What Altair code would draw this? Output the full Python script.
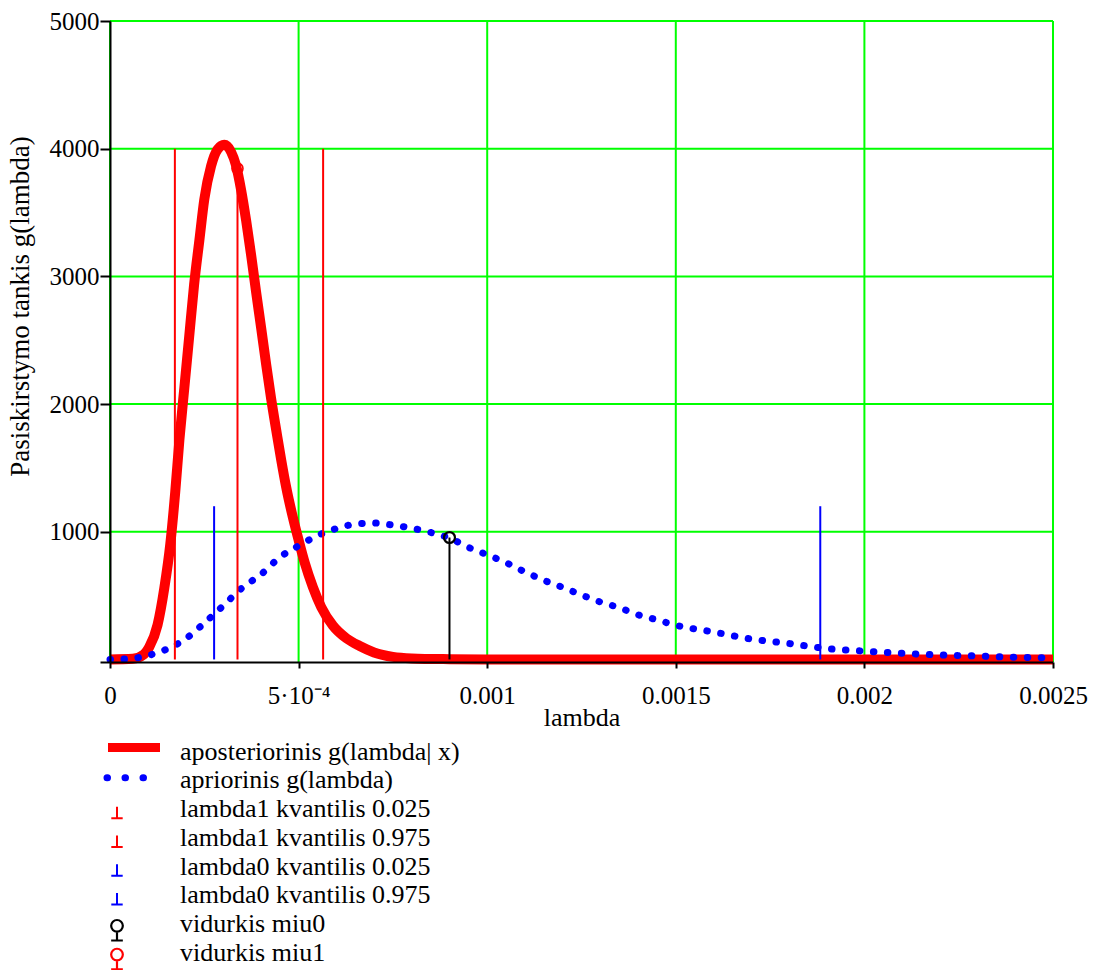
import altair as alt
import pandas as pd

# ---- data ----
post_lambda = [0, 0.00006, 0.00009, 0.000104, 0.000126, 0.000144, 0.00016, 0.000173, 0.000184,
               0.000197, 0.00021, 0.000223, 0.000237, 0.00025, 0.000268, 0.000285, 0.000303,
               0.000321, 0.000334, 0.000348, 0.000361, 0.000374, 0.000387, 0.000401, 0.000414,
               0.000427, 0.000441, 0.000454, 0.000467, 0.000485, 0.0005, 0.000516, 0.000538,
               0.00056, 0.000591, 0.000627, 0.000662, 0.0007, 0.00075, 0.0008, 0.0009, 0.001,
               0.0015, 0.002, 0.0025]
post_g = [0, 5, 40, 96, 270, 560, 907, 1313, 1719, 2125, 2530, 2936, 3284, 3603, 3864, 3994, 4030,
          3975, 3870, 3670, 3435, 3170, 2885, 2590, 2310, 2045, 1790, 1560, 1350, 1110, 935, 760,
          565, 410, 265, 165, 105, 55, 20, 8, 2, 0, 0, 0, 0]

prior_lambda = [0, 0.00005, 0.0001, 0.00015, 0.0002, 0.00025, 0.0003, 0.00035, 0.0004, 0.00045,
                0.0005, 0.00055, 0.0006, 0.00065, 0.0007, 0.00075, 0.0008, 0.00085, 0.0009, 0.00095,
                0.001, 0.00105, 0.0011, 0.00115, 0.0012, 0.00125, 0.0013, 0.00135, 0.0014, 0.00145,
                0.0015, 0.0016, 0.0017, 0.0018, 0.0019, 0.002, 0.0021, 0.0022, 0.0023, 0.0024, 0.0025]
prior_g = [0, 5, 30, 80, 160, 285, 420, 560, 665, 800,
           890, 970, 1025, 1060, 1068, 1052, 1028, 995, 950, 878,
           820, 758, 686, 620, 565, 505, 450, 405, 350, 310,
           268, 215, 160, 125, 85, 65, 48, 35, 27, 17, 12]

stem_series = ["lambda1 kvantilis 0.025", "lambda1 kvantilis 0.975",
               "lambda0 kvantilis 0.025", "lambda0 kvantilis 0.975",
               "vidurkis miu0", "vidurkis miu1"]
stem_lambda = [0.000172, 0.000565, 0.000276, 0.001883, 0.0009, 0.000338]
stem_top = [4000, 4000, 1200, 1200, 955, 3845]
series_colors = ["#ff0000", "#ff0000", "#0000ff", "#0000ff", "#000000", "#ff0000"]

x_ticks = [0, 0.0005, 0.001, 0.0015, 0.002, 0.0025]
x_tick_labels = ["0", "5·10⁻⁴", "0.001", "0.0015", "0.002", "0.0025"]
y_ticks = [-20, 1000, 2000, 3000, 4000, 5000]
y_grid = [1000, 2000, 3000, 4000, 5000]

legend_labels = ["aposteriorinis g(lambda| x)", "apriorinis g(lambda)",
                 "lambda1 kvantilis 0.025", "lambda1 kvantilis 0.975",
                 "lambda0 kvantilis 0.025", "lambda0 kvantilis 0.975",
                 "vidurkis miu0", "vidurkis miu1"]

FONT = "Liberation Serif"

post_df = pd.DataFrame({"lambda": post_lambda, "g": post_g})
prior_df = pd.DataFrame({"lambda": prior_lambda, "g": prior_g})
stem_df = pd.DataFrame({"series": stem_series, "lambda": stem_lambda, "top": stem_top})
xgrid_df = pd.DataFrame({"v": x_ticks})
ygrid_df = pd.DataFrame({"v": y_grid})
leg_df = pd.DataFrame({"row": list(range(len(legend_labels))), "label": legend_labels,
                       "series": ["post", "prior"] + stem_series})

xs = alt.Scale(domain=[0, 0.0025], nice=False, zero=False)
ys = alt.Scale(domain=[-20, 5000], nice=False, zero=False)
cs = alt.Scale(domain=stem_series, range=series_colors)

label_arr = "[" + ",".join("'" + s + "'" for s in x_tick_labels) + "]"
x_axis = alt.Axis(values=x_ticks, grid=False, title="lambda",
                  labelExpr=label_arr + "[round(datum.value/0.0005)]",
                  labelFont=FONT, labelFontSize=25, labelColor="black",
                  labelBaseline="middle", labelPadding=27, labelFlush=False,
                  tickSize=6, tickWidth=2, tickColor="black",
                  domainColor="black", domainWidth=2,
                  titleFont=FONT, titleFontSize=26, titleFontWeight="normal",
                  titleColor="black", titleY=55, titleBaseline="middle", zindex=1)
y_axis = alt.Axis(values=y_ticks, grid=False, title="Pasiskirstymo tankis g(lambda)",
                  format="d", labelExpr="datum.value < 0 ? '' : datum.label",
                  labelFont=FONT, labelFontSize=25, labelColor="black",
                  labelPadding=1, tickSize=10, tickWidth=2, tickColor="black",
                  domainColor="black", domainWidth=2,
                  titleFont=FONT, titleFontSize=27, titleFontWeight="normal",
                  titleColor="black", titleX=-90, titleY=285, titleAngle=270,
                  titleAlign="center", titleBaseline="middle", zindex=1)


def X(f):
    return alt.X(f, type="quantitative", scale=xs, axis=x_axis)


def Y(f):
    return alt.Y(f, type="quantitative", scale=ys, axis=y_axis)


xgrid = alt.Chart(xgrid_df).mark_rule(color="#00ff00", strokeWidth=2).encode(x=X("v"))
ygrid = alt.Chart(ygrid_df).mark_rule(color="#00ff00", strokeWidth=2).encode(y=Y("v"))

post = alt.Chart(post_df).mark_line(color="#ff0000", strokeWidth=10, interpolate="monotone",
                                    strokeJoin="round").encode(x=X("lambda"), y=Y("g"))
prior = alt.Chart(prior_df).mark_line(color="#0000ff", strokeWidth=7, interpolate="monotone",
                                      strokeDash=[0.5, 13.5], strokeCap="round").encode(
    x=X("lambda"), y=Y("g"))

stems = alt.Chart(stem_df).mark_rule(strokeWidth=2).encode(
    x=X("lambda"), y=Y("top"), y2=alt.datum(0),
    color=alt.Color("series:N", scale=cs, legend=None))

circ0 = alt.Chart(stem_df).transform_filter(alt.datum.series == "vidurkis miu0").mark_point(
    shape="circle", filled=False, size=120, strokeWidth=2.2, color="black", opacity=1).encode(
    x=X("lambda"), y=Y("top"))
circ1 = alt.Chart(stem_df).transform_filter(alt.datum.series == "vidurkis miu1").mark_point(
    shape="circle", filled=False, size=120, strokeWidth=1.6, color="#ff0000", opacity=1).encode(
    x=X("lambda"), y=Y("top"))

main = alt.layer(xgrid, ygrid, post, prior, stems, circ0, circ1)

# ---- legend (rows placed through their own scale) ----
ly = alt.Scale(domain=[0, 7], range=[732.6, 933.7])
LY = alt.Y("row:Q", scale=ly, axis=None)

leg_text = alt.Chart(leg_df).mark_text(align="left", baseline="middle", font=FONT, fontSize=26,
                                       color="black", dy=-2).encode(
    x=alt.value(70), y=LY, text="label:N")
leg_post = alt.Chart(leg_df).transform_filter(alt.datum.series == "post").mark_rule(
    color="#ff0000", strokeWidth=9, yOffset=-6).encode(x=alt.value(-2), x2=alt.value(50), y=LY)
leg_prior = alt.Chart(leg_df).transform_filter(alt.datum.series == "prior").mark_rule(
    color="#0000ff", strokeWidth=7, strokeDash=[0.5, 17.5], strokeCap="round",
    yOffset=-4.7).encode(x=alt.value(-3), x2=alt.value(40), y=LY)
leg_q = alt.Chart(leg_df).transform_filter(
    "indexof(datum.series, 'kvantilis') >= 0").mark_point(
    shape="M0,-1V1M-1,1H1", filled=False, size=130, strokeWidth=2, opacity=1,
    yOffset=1.5).encode(x=alt.value(7), y=LY,
                        color=alt.Color("series:N", scale=cs, legend=None))
leg_m = alt.Chart(leg_df).transform_filter(
    "indexof(datum.series, 'vidurkis') >= 0").mark_point(
    shape="M0.57 -0.43A0.57 0.57 0 1 1 -0.57 -0.43A0.57 0.57 0 1 1 0.57 -0.43M0 0.14V1M-0.57 1H0.57",
    filled=False, size=420, strokeWidth=2.2, opacity=1, yOffset=4.3).encode(
    x=alt.value(7), y=LY, color=alt.Color("series:N", scale=cs, legend=None))

legend = alt.layer(leg_post, leg_prior, leg_q, leg_m, leg_text)

chart = alt.layer(main, legend).resolve_scale(y="independent").properties(
    width=943, height=641,
    padding={"left": 110, "top": 21, "right": 43, "bottom": 308},
    autosize=alt.AutoSizeParams(type="none"),
    background="white",
).configure_view(stroke="transparent").configure_axis(
    labelFont=FONT, titleFont=FONT, labelColor="black", titleColor="black",
    titleFontWeight="normal"
).configure_text(font=FONT)

chart.save("out.html", embed_options={"renderer": "svg", "actions": False})
